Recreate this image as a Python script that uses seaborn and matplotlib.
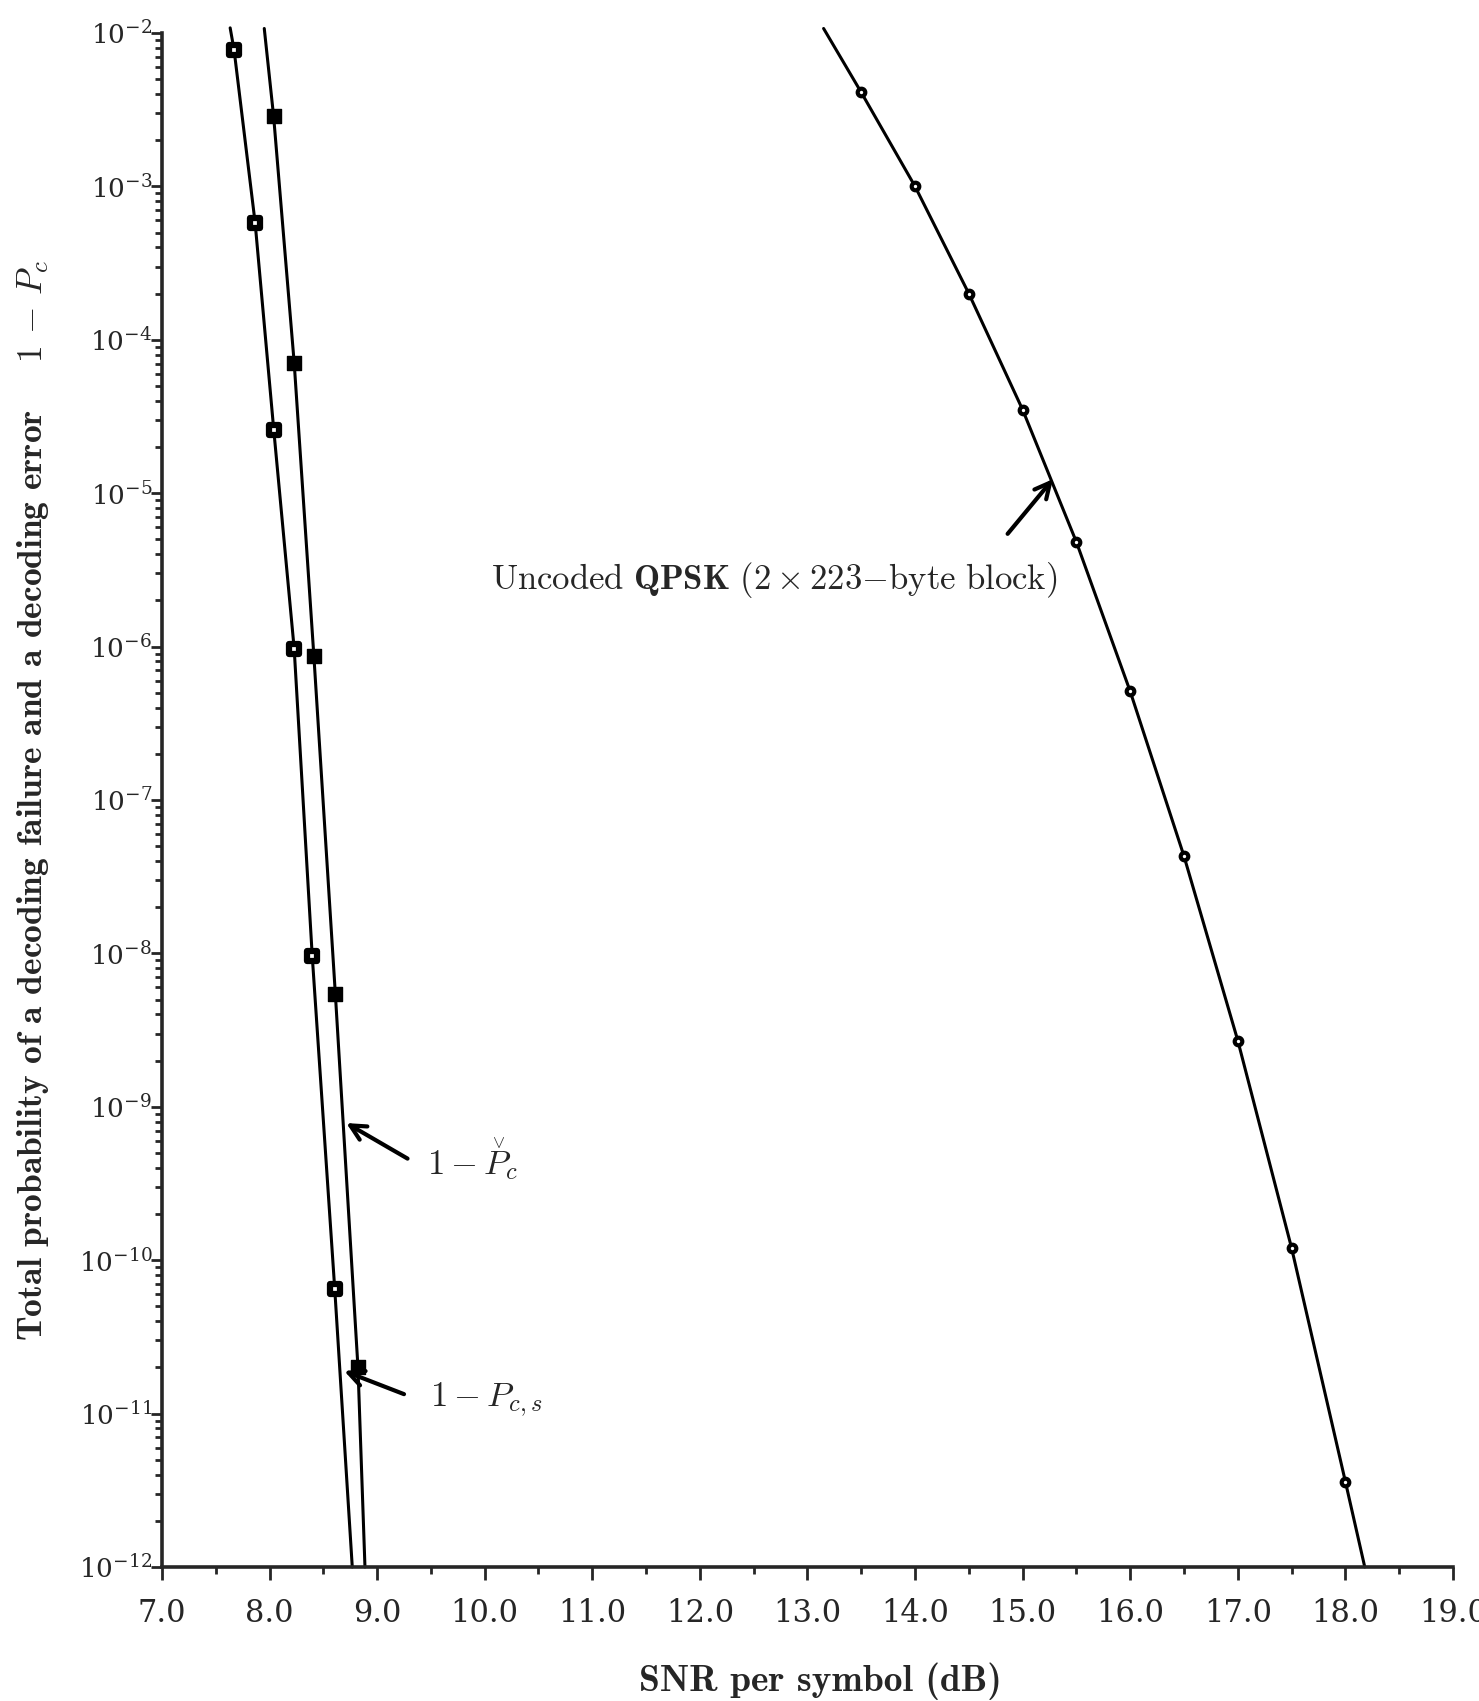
import matplotlib
matplotlib.use('Agg')
import matplotlib.pyplot as plt
import matplotlib.ticker as mticker
import numpy as np
import pandas as pd
import seaborn as sns

# 1 - P_c,s  (open squares)
snr_pcs = [7.671, 7.866, 8.039, 8.229, 8.397, 8.606]
err_pcs = [7.7e-3, 5.8e-4, 2.6e-5, 9.7e-7, 9.6e-9, 6.5e-11]
snr_pcs_ends = [7.634, 8.769]
err_pcs_ends = [1.08e-2, 1e-12]

# 1 - P_c (check)  (filled squares)
snr_pch = [8.038, 8.229, 8.412, 8.612, 8.822]
err_pch = [2.86e-3, 7.1e-5, 8.7e-7, 5.4e-9, 2.0e-11]
snr_pch_ends = [7.951, 8.887]
err_pch_ends = [1.07e-2, 1e-12]

# uncoded QPSK, 2 x 223-byte block
snr_qpsk = [13.5, 14.0, 14.5, 15.0, 15.5, 16.0, 16.5, 17.0, 17.5, 18.0]
err_qpsk = [4.1e-3, 1.0e-3, 2.0e-4, 3.5e-5, 4.8e-6, 5.1e-7, 4.3e-8, 2.7e-9, 1.2e-10, 3.6e-12]
snr_qpsk_ends = [13.15, 18.18]
err_qpsk_ends = [1.07e-2, 1e-12]

xticks = [7.0, 8.0, 9.0, 10.0, 11.0, 12.0, 13.0, 14.0, 15.0, 16.0, 17.0, 18.0, 19.0]


def curve(snr, err, snr_ends, err_ends):
    return pd.DataFrame({'snr': [snr_ends[0]] + snr + [snr_ends[1]],
                         'err': [err_ends[0]] + err + [err_ends[1]]})


sns.set_style('ticks')
plt.rcParams['font.family'] = ['DejaVu Serif']
plt.rcParams['mathtext.fontset'] = 'cm'

fig = plt.figure(figsize=(14.79, 17.01), dpi=100)
ax = fig.add_axes([0.1095, 0.0788, 0.8729, 0.9018])

for d in [curve(snr_pcs, err_pcs, snr_pcs_ends, err_pcs_ends),
          curve(snr_pch, err_pch, snr_pch_ends, err_pch_ends),
          curve(snr_qpsk, err_qpsk, snr_qpsk_ends, err_qpsk_ends)]:
    sns.lineplot(data=d, x='snr', y='err', ax=ax, color='k', lw=2.2,
                 sort=False, estimator=None, clip_on=False, zorder=2)

sns.scatterplot(x=snr_pcs, y=err_pcs, ax=ax, marker='s', s=49, color='white',
                edgecolor='k', linewidth=4.5, zorder=3, clip_on=False)
sns.scatterplot(x=snr_pch, y=err_pch, ax=ax, marker='s', s=100, color='k',
                edgecolor='k', linewidth=1, zorder=3, clip_on=False)
sns.scatterplot(x=snr_qpsk, y=err_qpsk, ax=ax, marker='o', s=30, color='white',
                edgecolor='k', linewidth=3, zorder=3)

ax.set_yscale('log')
ax.set_xlim(7, 19)
ax.set_ylim(1e-12, 1e-2)
ax.set_xticks(xticks)
ax.set_xticklabels([f'{t:.1f}' for t in xticks])
ax.xaxis.set_minor_locator(mticker.MultipleLocator(0.5))
ax.yaxis.set_major_locator(mticker.LogLocator(base=10, numticks=20))
ax.yaxis.set_minor_locator(mticker.LogLocator(base=10, subs=np.arange(2, 10), numticks=20))
ax.yaxis.set_minor_formatter(mticker.NullFormatter())

sns.despine(ax=ax)
for s in ['left', 'bottom']:
    ax.spines[s].set_linewidth(2.6)
ax.tick_params(axis='x', which='major', length=9, width=2, labelsize=22, pad=13)
ax.tick_params(axis='x', which='minor', length=5, width=2)
ax.tick_params(axis='y', which='major', length=8, width=2, labelsize=19, pad=-1)
ax.tick_params(axis='y', which='minor', length=5, width=2)

ax.set_xlabel('SNR per symbol (dB)', fontsize=27, fontfamily='cmb10')
ax.xaxis.set_label_coords(0.51, -0.062)
ax.set_ylabel('Total probability of a decoding failure and a decoding error    $1\\,-\\,P_c$',
              fontsize=25.5, fontfamily='cmb10')
ax.yaxis.set_label_coords(-0.086, 0.5)

arrow = dict(arrowstyle='->,head_length=1.1,head_width=0.55', lw=3, color='k')
ax.annotate('', xy=(15.299, 10 ** -4.894), xytext=(14.844, 10 ** -5.279), arrowprops=arrow)
ax.text(10.062, 10 ** -5.566, r'$\mathrm{Uncoded}\ \mathbf{QPSK}\ (2\times 223\mathrm{-byte\ block})$',
        fontsize=25, ha='left', va='center')

ax.annotate('', xy=(8.691, 10 ** -9.097), xytext=(9.305, 10 ** -9.347), arrowprops=arrow)
pch_anchor = (9.46, 10 ** -9.44)
ax.annotate(r'$1-P_c$', xy=pch_anchor, fontsize=25, ha='left', va='baseline')
# caron over the P
ax.annotate(r'$\vee$', xy=pch_anchor, xytext=(52, 19), textcoords='offset points',
            fontsize=13, ha='center', va='baseline')

ax.annotate('', xy=(8.67, 10 ** -10.716), xytext=(9.274, 10 ** -10.88), arrowprops=arrow)
ax.text(9.49, 10 ** -10.91, r'$1-P_{c,s}$', fontsize=25, ha='left', va='center')

fig.savefig('out.png', dpi=100)
